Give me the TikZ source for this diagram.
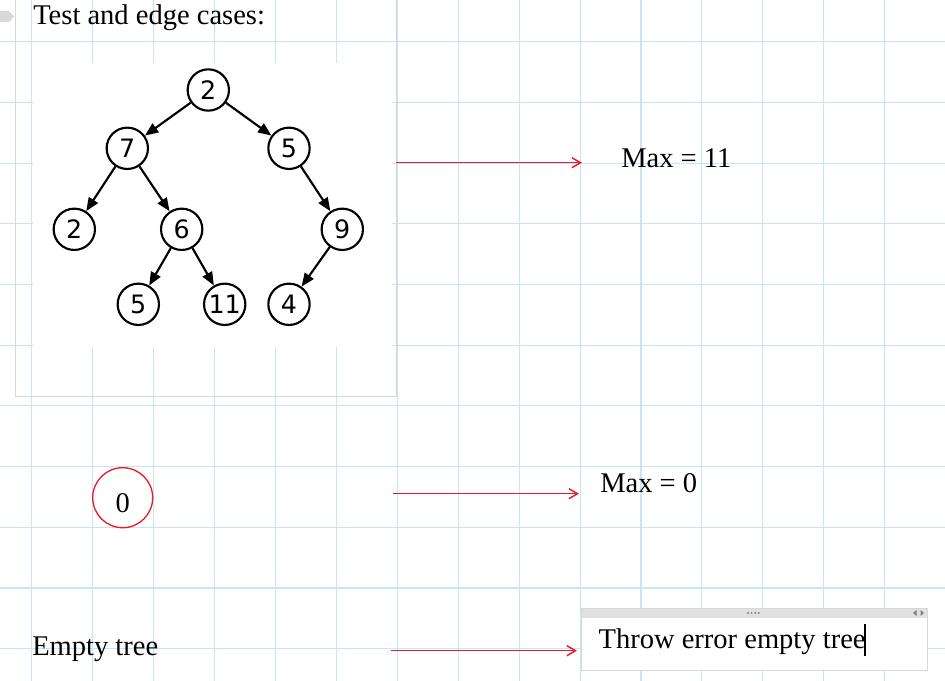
\documentclass[tikz,border=0pt]{standalone}
\usepackage{fontspec}
\setmainfont{Liberation Serif}
\newfontfamily\treefont{DejaVu Sans}
\usetikzlibrary{arrows.meta}
\definecolor{gridblue}{RGB}{200,229,247}
\definecolor{framegray}{RGB}{216,216,216}
\definecolor{headgray}{RGB}{225,225,225}
\definecolor{inkred}{RGB}{230,28,45}
\tikzset{
  treenode/.style={circle,draw,line width=1.6pt,minimum size=31pt,inner sep=0pt,
    font=\treefont\fontsize{19}{20}\selectfont},
  treeedge/.style={line width=1.6pt,-{Triangle[length=10pt,width=8pt]}},
  note/.style={anchor=base west,inner sep=0pt,font=\fontsize{21.4}{24}\selectfont},
  redarrow/.style={inkred,line width=1.1pt,-{Straight Barb[length=6.5pt,width=7.5pt]}}
}
\begin{document}
\begin{tikzpicture}[x=0.75pt,y=-0.75pt]
\useasboundingbox (0,0) rectangle (945,681);
% page grid
\foreach \k in {0,...,14}
    \draw[gridblue,line width=0.8pt] (31.5+60.95*\k,0)--(31.5+60.95*\k,681);
\foreach \k in {0,...,10}
    \draw[gridblue,line width=0.8pt] (0,41.7+60.7*\k)--(945,41.7+60.7*\k);
% tag and outline of the first block
\fill[framegray] (0,11)--(9,11)--(14,16.5)--(9,22)--(0,22)--cycle;
\draw[framegray,line width=0.75pt] (15,-2) rectangle (396,396);
\node[note] (title) at (33,25) {Test and edge cases:};
% tree picture
\fill[white] (33,63) rectangle (392,347);
\node[treenode] (n2) at (208.3,90) {2};
\node[treenode] (n7) at (127.3,148.3) {7};
\node[treenode] (n5) at (289,148.3) {5};
\node[treenode] (n2b) at (74.3,229.3) {2};
\node[treenode] (n6) at (181.7,229.3) {6};
\node[treenode] (n9) at (342.3,229.3) {9};
\node[treenode] (n5b) at (138.3,304.3) {5};
\node[treenode] (n11) at (224.7,304.3) {11};
\node[treenode] (n4) at (289,304.3) {4};
\foreach \a/\b in {n2/n7,n2/n5,n7/n2b,n7/n6,n5/n9,n6/n5b,n6/n11,n9/n4}
    \draw[treeedge] (\a)--(\b);
% results
\coordinate (s1) at (396,162.7);
\coordinate (e1) at (582,162.7);
\draw[redarrow] (s1)--(e1);
\node[note] (max11) at (621,167.7) {Max = 11};
\node[note,anchor=base] (zero) at (122.7,512.3) {0};
\draw[inkred,line width=1pt] (122.7,497.7) circle[radius=22.5pt];
\coordinate (s2) at (393,493.7);
\coordinate (e2) at (579,493.7);
\draw[redarrow] (s2)--(e2);
\node[note] (max0) at (600,492.3) {Max = 0};
\node[note] (empty) at (32,655) {Empty tree};
\coordinate (s3) at (390.5,650.7);
\coordinate (e3) at (577,650.7);
\draw[redarrow] (s3)--(e3);
% text box with its header bar
\fill[white] (581,608) rectangle (927,670);
\fill[headgray] (581,608) rectangle (927,618);
\draw[framegray,line width=0.75pt] (581,608) rectangle (927,670);
\foreach \d in {0,...,3}
    \fill[gray] (748+3.6*\d,613) circle (0.8pt);
\fill[gray] (913,613)--(916.5,610)--(916.5,616)--cycle;
\fill[gray] (920.5,610)--(924,613)--(920.5,616)--cycle;
\node[note] (err) at (598.3,648.3) {Throw error empty tree};
\draw[line width=0.8pt] (865,624)--(865,656);
\end{tikzpicture}
\end{document}
